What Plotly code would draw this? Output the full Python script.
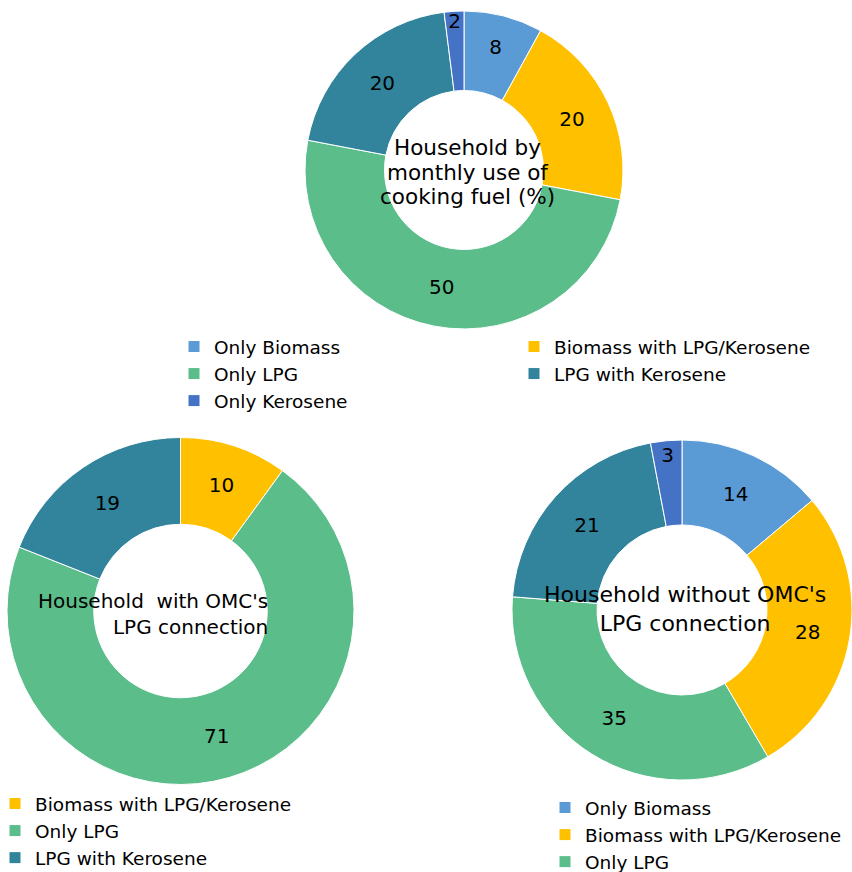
import plotly.graph_objects as go

W, H = 852, 872

# ---- data ----
top_labels = ["Only Biomass", "Biomass with LPG/Kerosene", "Only LPG", "LPG with Kerosene", "Only Kerosene"]
top_values = [8, 20, 50, 20, 2]

left_labels = ["Biomass with LPG/Kerosene", "Only LPG", "LPG with Kerosene"]
left_values = [10, 71, 19]

right_labels = ["Only Biomass", "Biomass with LPG/Kerosene", "Only LPG", "LPG with Kerosene", "Only Kerosene"]
right_values = [14, 28, 35, 21, 3]
right_legend_labels = ["Only Biomass", "Biomass with LPG/Kerosene", "Only LPG"]

top_title_lines = ["Household by", "monthly use of", "cooking fuel (%)"]
left_title = "Household\u00a0 with OMC's<br>LPG connection"
right_title = "Household without OMC's<br>LPG connection"

colors = {
    "Only Biomass": "#5B9BD5",
    "Biomass with LPG/Kerosene": "#FFC000",
    "Only LPG": "#5BBD8A",
    "LPG with Kerosene": "#31849B",
    "Only Kerosene": "#4472C4",
}

FONT = "DejaVu Sans"


def dom(x0, x1, y0, y1):
    return dict(x=[x0 / W, min(x1 / W, 1.0)], y=[1 - y1 / H, 1 - y0 / H])


def pie(labels, values, domain, legend, showlegend=True):
    return go.Pie(
        labels=labels,
        values=values,
        domain=domain,
        hole=0.5,
        sort=False,
        direction="clockwise",
        rotation=0,
        texttemplate="%{value}",
        textposition="inside",
        insidetextorientation="horizontal",
        textfont=dict(family=FONT, size=20, color="black"),
        marker=dict(colors=[colors[l] for l in labels], line=dict(color="white", width=1)),
        legend=legend,
        showlegend=showlegend,
        hoverinfo="label+value",
    )


def legend_keys(labels, legend):
    return [
        go.Scatter(
            x=[None], y=[None], mode="markers", name=lab,
            marker=dict(symbol="square", size=11, color=colors[lab]),
            legend=legend, hoverinfo="skip",
        )
        for lab in labels
    ]


fig = go.Figure()
fig.add_trace(pie(top_labels, top_values, dom(305, 623, 10, 330), "legend"))
fig.add_trace(pie(left_labels, left_values, dom(7, 354, 437, 785), "legend2", showlegend=False))
fig.add_trace(pie(right_labels, right_values, dom(512, 852, 440, 780), "legend3", showlegend=False))
fig.add_traces(legend_keys(left_labels, "legend2"))
fig.add_traces(legend_keys(right_legend_labels, "legend3"))

legend_font = dict(family=FONT, size=18.5, color="black")

annotations = []
for i, line in enumerate(top_title_lines):
    annotations.append(dict(
        text=line, x=467 / W, y=1 - (148 + 24 * i) / H, xref="paper", yref="paper",
        xanchor="center", yanchor="middle", showarrow=False,
        font=dict(family=FONT, size=21.5, color="black")))
annotations.append(dict(
    text=left_title, x=270 / W, y=1 - 614 / H, xref="paper", yref="paper",
    xanchor="right", yanchor="middle", showarrow=False, align="right",
    font=dict(family=FONT, size=20, color="black")))
annotations.append(dict(
    text=right_title, x=685 / W, y=1 - 609 / H, xref="paper", yref="paper",
    xanchor="center", yanchor="middle", showarrow=False, align="center",
    font=dict(family=FONT, size=22, color="black")))

fig.update_layout(
    width=W, height=H,
    margin=dict(l=0, r=0, t=0, b=0, autoexpand=False),
    paper_bgcolor="white",
    plot_bgcolor="white",
    font=dict(family=FONT, color="black"),
    uniformtext=dict(minsize=20, mode="show"),
    xaxis=dict(visible=False),
    yaxis=dict(visible=False),
    legend=dict(
        orientation="h", entrywidth=295, x=174 / W, y=1 - 328 / H,
        xanchor="left", yanchor="top", font=legend_font, bgcolor="rgba(0,0,0,0)",
    ),
    legend2=dict(
        orientation="v", x=-5 / W, y=1 - 785 / H,
        xanchor="left", yanchor="top", font=legend_font, bgcolor="rgba(0,0,0,0)",
    ),
    legend3=dict(
        orientation="v", x=545 / W, y=1 - 789 / H,
        xanchor="left", yanchor="top", font=legend_font, bgcolor="rgba(0,0,0,0)",
    ),
    annotations=annotations,
)

fig.write_html(
    "out.html",
    config={"displayModeBar": False},
    post_script="document.body.style.margin='0';",
)
